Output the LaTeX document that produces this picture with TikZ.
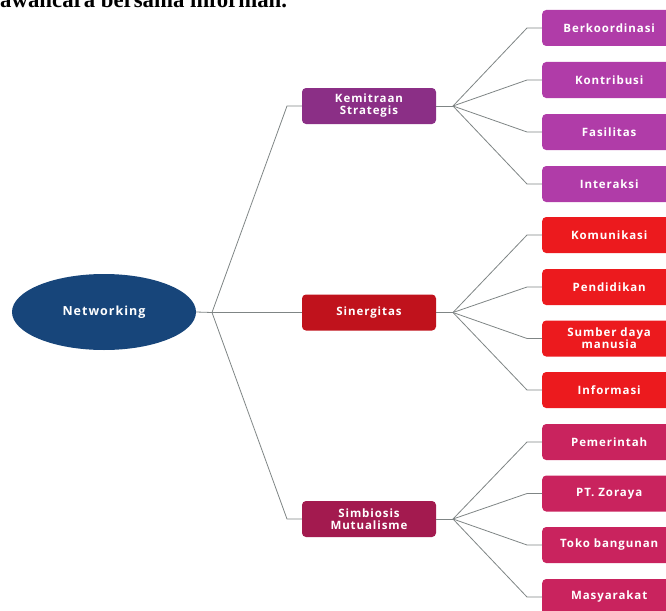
\documentclass[tikz,border=0pt]{standalone}
\usepackage{fontspec}
\usetikzlibrary{shapes.geometric}
\setmainfont{Liberation Serif}
\newfontfamily\boxfont[LetterSpace=8]{Open Sans}
\definecolor{linegray}{HTML}{7F8585}
\definecolor{navy}{HTML}{17457A}
\definecolor{kemcol}{HTML}{8B2F86}
\definecolor{kemleaf}{HTML}{B03CA8}
\definecolor{sincol}{HTML}{C0121C}
\definecolor{sinleaf}{HTML}{EC1A1E}
\definecolor{simcol}{HTML}{A31A4F}
\definecolor{simleaf}{HTML}{C9235E}
\begin{document}
\begin{tikzpicture}[x=1pt,y=-1pt,
  conn/.style={draw=linegray, line width=0.8pt},
  lvlone/.style={rounded corners=4pt, minimum width=134pt, minimum height=36pt,
    inner sep=1pt, text=white, align=center,
    font=\boxfont\bfseries\fontsize{11.5}{12}\selectfont},
  leaf/.style={rounded corners=4pt, minimum width=134pt, minimum height=36pt,
    inner sep=1pt, text=white, align=center, anchor=west,
    font=\boxfont\bfseries\fontsize{11.5}{12}\selectfont}]
\useasboundingbox (0,0) rectangle (666,610);
\clip (0,0) rectangle (666,610);

\node[anchor=base west, inner sep=0pt, font=\bfseries\fontsize{22.8}{24}\selectfont] (cap) at (0,8) {awancara bersama informan.};

\node[ellipse, fill=navy, minimum width=184pt, minimum height=76pt, inner sep=0pt,
  text=white, font=\boxfont\bfseries\fontsize{12.5}{13}\selectfont] (net) at (104,312) {Networking};

\node[lvlone, fill=kemcol] (kem) at (369,106) {Kemitraan\\Strategis};
\node[lvlone, fill=sincol] (sin) at (369,312.5) {Sinergitas};
\node[lvlone, fill=simcol] (sim) at (369,519) {Simbiosis\\Mutualisme};

\coordinate (j0) at (212,312.5);
\draw[conn] (net.east) -- (j0);
\draw[conn] (j0) -- (287,106) -- (kem.west);
\draw[conn] (j0) -- (sin.west);
\draw[conn] (j0) -- (287,519) -- (sim.west);

% leaves
\node[leaf, fill=kemleaf] (l1) at (542,28) {Berkoordinasi};
\node[leaf, fill=kemleaf] (l2) at (542,80) {Kontribusi};
\node[leaf, fill=kemleaf] (l3) at (542,132) {Fasilitas};
\node[leaf, fill=kemleaf] (l4) at (542,184) {Interaksi};
\node[leaf, fill=sinleaf] (l5) at (542,235) {Komunikasi};
\node[leaf, fill=sinleaf] (l6) at (542,287) {Pendidikan};
\node[leaf, fill=sinleaf] (l7) at (542,338.5) {Sumber daya\\manusia};
\node[leaf, fill=sinleaf] (l8) at (542,390) {Informasi};
\node[leaf, fill=simleaf] (l9) at (542,442) {Pemerintah};
\node[leaf, fill=simleaf] (l10) at (542,493.5) {PT. Zoraya};
\node[leaf, fill=simleaf] (l11) at (542,545) {Toko bangunan};
\node[leaf, fill=simleaf] (l12) at (542,597) {Masyarakat};

\coordinate (jk) at (453,106);
\coordinate (js) at (453,312.5);
\coordinate (jm) at (453,519);
\draw[conn] (kem.east) -- (jk);
\draw[conn] (sin.east) -- (js);
\draw[conn] (sim.east) -- (jm);

\foreach \l in {l1,l2,l3,l4}{\draw[conn] (jk) -- (527,0 |- \l.west) -- (\l.west);}
\foreach \l in {l5,l6,l7,l8}{\draw[conn] (js) -- (527,0 |- \l.west) -- (\l.west);}
\foreach \l in {l9,l10,l11,l12}{\draw[conn] (jm) -- (527,0 |- \l.west) -- (\l.west);}
\end{tikzpicture}
\end{document}
